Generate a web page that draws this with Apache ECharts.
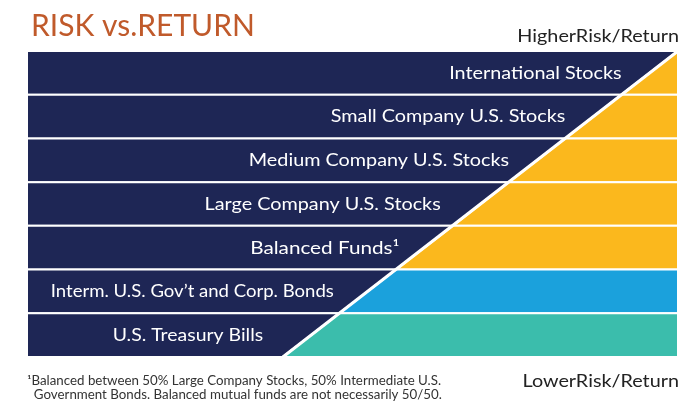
<!DOCTYPE html>
<html>
<head>
<meta charset="utf-8">
<script src="https://cdn.jsdelivr.net/npm/echarts@6/dist/echarts.min.js"></script>
<style>
  html, body { margin: 0; padding: 0; background: #fff; }
  #chart { width: 693px; height: 416px; }
</style>
</head>
<body>
<div id="chart"></div>
<script>
var rowLabels = [
  'International Stocks',
  'Small Company U.S. Stocks',
  'Medium Company U.S. Stocks',
  'Large Company U.S. Stocks',
  'Balanced Funds\u00b9',
  'Interm. U.S. Gov\u2019t and Corp. Bonds',
  'U.S. Treasury Bills'
];
// where the risk band starts (0-100 scale) at each row edge, top to bottom
var riskEdges = [100, 91.3, 82.7, 74.0, 65.4, 56.7, 48.0, 39.3];
var rowColors = ['#fbb81d', '#fbb81d', '#fbb81d', '#fbb81d', '#fbb81d', '#1ba1dc', '#3bbdac'];

var navy = '#1e2655';
var labelGapPx = [28, 28, 28, 40, 25, 34, 48];
var labelWide = [1.1, 1.1, 1.1, 1.1, 1.15, 1.03, 1.08];
var font = 'Lato';
var wide = 1.1; // the original face is wider than Lato

var mycharts = echarts.init(document.getElementById('chart'));

var option = {
  backgroundColor: '#fff',
  animation: false,
  grid: { left: 27, right: 15, top: 51, bottom: 59 },
  xAxis: { type: 'value', min: 0, max: 100, show: false },
  yAxis: { type: 'value', min: 0, max: 7, inverse: true, show: false },
  graphic: [
    {
      type: 'text', left: 31, top: 11,
      style: { text: 'RISK vs.RETURN', fill: '#c05a2b', font: '30px ' + font }
    },
    {
      type: 'text', x: 679, y: 36, scaleX: wide,
      style: { text: 'HigherRisk/Return', fill: '#222', font: '18px ' + font, align: 'right', verticalAlign: 'middle' }
    },
    {
      type: 'text', x: 679, y: 381, scaleX: wide,
      style: { text: 'LowerRisk/Return', fill: '#222', font: '18px ' + font, align: 'right', verticalAlign: 'middle' }
    },
    {
      type: 'text', x: 27, y: 374, scaleX: 1.065,
      style: {
        text: '\u00b9Balanced between 50% Large Company Stocks, 50% Intermediate U.S.\n  Government Bonds. Balanced mutual funds are not necessarily 50/50.',
        fill: '#333', font: '12.5px ' + font, lineHeight: 14
      }
    }
  ],
  series: [
    {
      type: 'custom',
      data: rowLabels.map(function (name, i) { return [i]; }),
      renderItem: function (params, api) {
        var i = api.value(0);
        var a = riskEdges[i], b = riskEdges[i + 1];
        var p = function (x, y) { return api.coord([x, y]); };
        var mid = p((a + b) / 2, i + 0.5);
        return {
          type: 'group',
          children: [
            {
              type: 'polygon',
              shape: { points: [p(0, i), p(a, i), p(b, i + 1), p(0, i + 1)] },
              style: { fill: navy, stroke: '#fff', lineWidth: 2 }
            },
            {
              type: 'polygon',
              shape: { points: [p(a, i), p(100, i), p(100, i + 1), p(b, i + 1)] },
              style: { fill: rowColors[i], stroke: '#fff', lineWidth: 2 }
            },
            {
              type: 'text',
              x: mid[0] - labelGapPx[i],
              y: mid[1],
              scaleX: labelWide[i],
              style: {
                text: rowLabels[i], fill: '#fff', font: '18px ' + font,
                align: 'right', verticalAlign: 'middle'
              }
            }
          ]
        };
      }
    },
    {
      type: 'line',
      data: [[riskEdges[7], 7], [riskEdges[0], 0]],
      symbol: 'none',
      lineStyle: { color: '#fff', width: 3 },
      z: 5
    }
  ]
};
mycharts.setOption(option);
</script>
</body>
</html>
